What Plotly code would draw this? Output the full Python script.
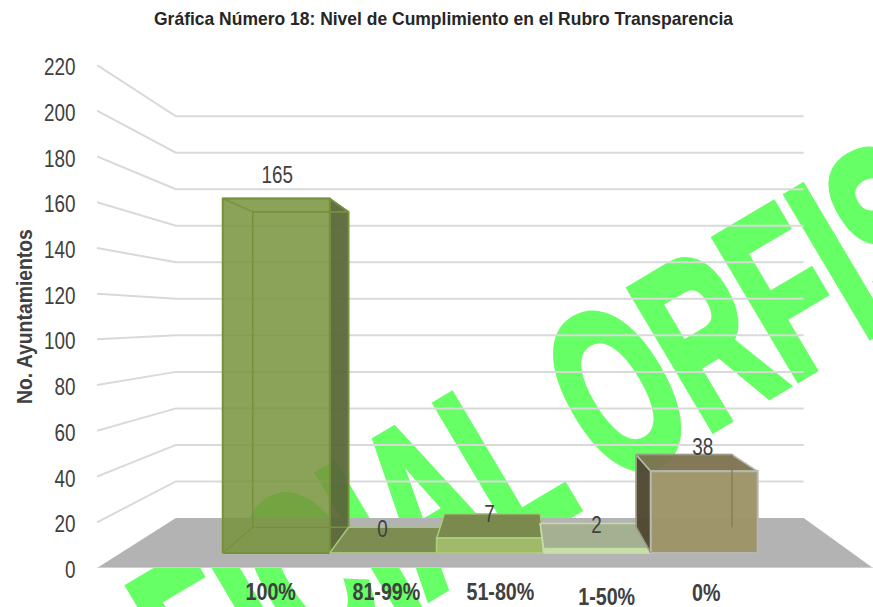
import plotly.graph_objects as go

categories = ["100%", "81-99%", "51-80%", "1-50%", "0%"]
values = [165, 0, 7, 2, 38]
y_ticks = list(range(0, 221, 20))
title = "Gráfica Número 18: Nivel de Cumplimiento en el Rubro Transparencia"
y_title = "No. Ayuntamientos"
watermark = "OFICIAL ORFIS"

front_fill = ["rgba(119,147,60,0.85)", "rgba(125,140,80,1)", "rgba(160,186,106,1)", "rgba(200,224,170,1)", "rgba(158,148,104,0.97)"]
top_fill = ["rgba(119,147,60,0)", "rgba(125,140,80,1)", "rgba(122,138,78,1)", "rgba(165,175,145,1)", "rgba(124,114,78,0.95)"]
side_fill = ["rgba(90,104,58,0.95)", "rgba(125,140,80,1)", "rgba(110,125,70,1)", "rgba(180,195,160,1)", "rgba(78,72,50,0.96)"]
edge = ["#76913a", "#a4c37b", "#a9cc7c", "#c5dca5", "#b8b8b2"]
inner = ["#76913a", "#a4c37b", "#a9cc7c", "#c5dca5", "rgba(130,122,85,0.5)"]
label_dx = [-6, 3, 10, 9, 2]   # pixel nudges of the category captions
label_dy = [23, 23, 23, 28, 24]
value_dx = [1, -1, -1, -1, -1]

FONT = "Liberation Sans, Arial, sans-serif"
TXT = "#404040"

# perspective of the 3D chart box
X0, X1 = -1.454, 5.383
XV = 2.185
D_FRONT, D_BACK = 0.30, 0.815
HW = 0.5


def k(d):
    return 1 - 0.191 * d


def px(x, d):
    return XV + (x - XV) * k(d)


def py(v, d):
    return (50 * d + v * (2.285 - 0.46 * d)) / 2.285


fig = go.Figure()


def poly(xs, ys, fill, line="rgba(0,0,0,0)", w=0):
    fig.add_trace(go.Scatter(x=xs + xs[:1], y=ys + ys[:1], mode="lines", fill="toself", fillcolor=fill,
                             line=dict(color=line, width=w), hoverinfo="skip", showlegend=False, cliponaxis=False))


def seg(xs, ys, color, w):
    fig.add_trace(go.Scatter(x=xs, y=ys, mode="lines", line=dict(color=color, width=w),
                             hoverinfo="skip", showlegend=False, cliponaxis=False))


# gridlines on the walls
for v in y_ticks[1:]:
    seg([px(X0, 0), px(X0, 1), px(X1, 1)], [py(v, 0), py(v, 1), py(v, 1)], "#d9d9d9", 2)

# floor
poly([px(X0, 0), px(X0, 1), px(X1, 1), px(X1, 0)], [py(0, 0), py(0, 1), py(0, 1), py(0, 0)], "#b3b3b3")
seg([px(X0, 0), px(X1, 0)], [py(0, 0), py(0, 0)], "#d9d9d9", 1.5)

# bars
for i, v in enumerate(values):
    xl, xr = i - HW, i + HW
    fx = [px(xl, D_FRONT), px(xr, D_FRONT)]
    bx = [px(xl, D_BACK), px(xr, D_BACK)]
    y0f, y1f = py(0, D_FRONT), py(v, D_FRONT)
    y0b, y1b = py(0, D_BACK), py(v, D_BACK)
    # side towards the vanishing point
    sx = xr if i < XV else xl
    poly([px(sx, D_FRONT), px(sx, D_BACK), px(sx, D_BACK), px(sx, D_FRONT)], [y0f, y0b, y1b, y1f], side_fill[i], edge[i], 1.5)
    # top face
    poly([fx[0], bx[0], bx[1], fx[1]], [y1f, y1b, y1b, y1f], top_fill[i], edge[i], 1.5)
    # front face
    poly([fx[0], fx[1], fx[1], fx[0]], [y0f, y0f, y1f, y1f], front_fill[i], edge[i], 2)
    # inner edges seen through the box
    if v > 20:
        seg([fx[0], bx[0], bx[1] if i == 0 else bx[0]], [y0f, y0b, y0b if i == 0 else y1b], inner[i], 1.5)
        seg([bx[0] if i == 0 else bx[1], bx[0] if i == 0 else bx[1]], [y0b, y1b], inner[i], 1.5)
        seg([bx[0], bx[1], bx[1]], [y1b, y1b, y0b], inner[i], 1.5)

# data labels
for i, v in enumerate(values):
    fig.add_annotation(x=px(i, D_FRONT), y=py(v, D_FRONT), xref="x", yref="y", text=str(v), showarrow=False, yshift=24,
                       xshift=value_dx[i], font=dict(family=FONT, size=23, color=TXT))

# category captions
for i, c in enumerate(categories):
    fig.add_annotation(x=px(i, D_FRONT), y=0, xref="x", yref="y", text="<b>%s</b>" % c, showarrow=False,
                       yshift=-label_dy[i], xshift=label_dx[i], font=dict(family=FONT, size=24, color=TXT))

# value-axis caption
fig.add_annotation(xref="paper", yref="paper", x=(24 - 97) / 776, y=(568 - 317) / 503, text="<b>%s</b>" % y_title,
                   xanchor="center", yanchor="middle", textangle=-90, showarrow=False,
                   font=dict(family=FONT, size=22, color=TXT))

# watermark behind the plot
fig.add_shape(type="rect", xref="paper", yref="paper", x0=0, x1=1, y0=0, y1=1, layer="below",
              line=dict(width=0), fillcolor="rgba(0,0,0,0)",
              label=dict(text=watermark, font=dict(family="Liberation Sans", size=236, color="#66ff66", weight="bold")))

fig.update_layout(
    width=873, height=607, autosize=False, paper_bgcolor="white", plot_bgcolor="rgba(0,0,0,0)",
    margin=dict(l=97, r=0, t=65, b=39), showlegend=False,
    title=dict(text="<b>%s</b>" % title, x=443.5 / 873, y=1 - 18 / 607, xanchor="center", yanchor="middle",
               font=dict(family=FONT, size=19, color="#262626")),
    xaxis=dict(range=[X0, X1], showgrid=False, zeroline=False, showticklabels=False, ticks="", showline=False),
    yaxis=dict(range=[0, 220], tickvals=y_ticks, showgrid=False, zeroline=False, showline=False,
               ticks="outside", ticklen=16, tickcolor="rgba(0,0,0,0)", ticklabelshift=2,
               tickfont=dict(family=FONT, size=23, color=TXT)),
)

post = """
document.documentElement.style.overflow = 'hidden';
document.body.style.margin = '0';
var gd = document.getElementById('{plot_id}');
gd.querySelectorAll('text').forEach(function (t) {
  var s = t.textContent;
  if (s.indexOf('ORFIS') >= 0) {
    t.setAttribute('x', 0); t.setAttribute('y', 0);
    t.setAttribute('text-anchor', 'start');
    t.setAttribute('transform', 'translate(112,786) rotate(-30.7) scale(0.58,1)');
    t.style.stroke = '#66ff66';
    t.style.strokeWidth = '8px';
    return;
  }
  var f = 0.82;
  if (s.indexOf('Gr') === 0) f = 0.92;
  if (s.indexOf('No.') === 0) f = 0.88;
  t.setAttribute('textLength', t.getComputedTextLength() * f);
  t.setAttribute('lengthAdjust', 'spacingAndGlyphs');
});
"""
fig.write_html("out.html", post_script=post, config=dict(displayModeBar=False))
